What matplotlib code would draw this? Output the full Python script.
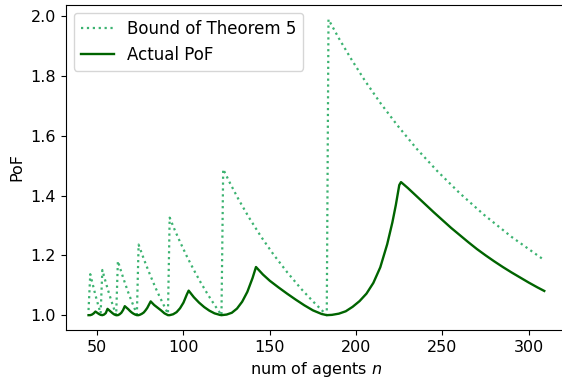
import numpy as np
import matplotlib
matplotlib.use("Agg")
import matplotlib.pyplot as plt

plt.rcParams["font.size"] = 11.5

# upper bound from Theorem 5, one list per step of the sawtooth
bound_n = [
    [45],
    [46, 47, 49, 51, 52],
    [53, 55, 57, 59, 61],
    [62, 64, 66, 68, 70, 73],
    [74, 76, 78, 80, 82, 84, 86, 88, 91],
    [92, 95, 98, 102, 106, 110, 114, 118, 122],
    [123, 127, 132, 138, 145, 152, 160, 168, 175, 183],
    [184, 190, 197, 205, 214, 224, 235, 247, 260, 274, 290, 309],
]
bound_v = [
    [1.017],
    [1.137, 1.113, 1.067, 1.025, 1.006],
    [1.151, 1.109, 1.070, 1.034, 1.000],
    [1.181, 1.144, 1.109, 1.076, 1.046, 1.003],
    [1.236, 1.204, 1.173, 1.144, 1.116, 1.089, 1.064, 1.040, 1.005],
    [1.326, 1.284, 1.245, 1.196, 1.151, 1.109, 1.070, 1.034, 1.000],
    [1.488, 1.441, 1.386, 1.326, 1.262, 1.204, 1.144, 1.089, 1.046, 1.000],
    [1.989, 1.926, 1.858, 1.785, 1.710, 1.634, 1.557, 1.482, 1.408, 1.336, 1.262, 1.184],
]

# measured price of fairness
actual_n = [
    45, 46, 47, 48, 49, 50, 51, 52, 53,
    54, 55, 56, 57, 58, 59, 60, 61,
    62, 63, 64, 65, 66, 67, 68, 69, 70, 71, 72, 73,
    74, 75, 76, 77, 78, 79, 80, 81, 83, 85, 87, 89, 91,
    92, 94, 96, 98, 100, 102, 103, 106, 109, 112, 115, 118, 121, 122,
    125, 128, 131, 134, 137, 140, 142, 146, 150, 155, 160, 165, 170, 175, 180, 183,
    186, 190, 194, 198, 202, 206, 210, 214, 218, 221, 223, 225, 226,
    230, 235, 240, 245, 250, 255, 260, 265, 270, 275, 280, 285, 290, 295, 300, 305, 309,
]
actual_v = [
    1.000, 1.000, 1.002, 1.006, 1.012, 1.008, 1.004, 1.001, 1.000,
    1.002, 1.007, 1.021, 1.016, 1.011, 1.006, 1.002, 1.000,
    1.000, 1.003, 1.008, 1.017, 1.030, 1.025, 1.020, 1.014, 1.009, 1.005, 1.002, 1.000,
    1.000, 1.002, 1.005, 1.009, 1.016, 1.024, 1.035, 1.046, 1.034, 1.025, 1.016, 1.006, 1.000,
    1.000, 1.003, 1.010, 1.023, 1.042, 1.070, 1.082, 1.060, 1.042, 1.027, 1.015, 1.006, 1.001, 1.000,
    1.002, 1.008, 1.022, 1.045, 1.078, 1.124, 1.161, 1.136, 1.115, 1.093, 1.072, 1.052, 1.033, 1.016, 1.004, 1.000,
    1.001, 1.005, 1.013, 1.028, 1.047, 1.072, 1.108, 1.160, 1.237, 1.310, 1.368, 1.435, 1.445,
    1.425, 1.398, 1.371, 1.344, 1.318, 1.292, 1.268, 1.244, 1.221, 1.200, 1.180, 1.161, 1.143, 1.126, 1.109, 1.093, 1.081,
]

fig = plt.figure(figsize=(5.62, 3.85), dpi=100)
ax = fig.add_axes([0.117, 0.143, 0.892, 0.845])

bn = np.concatenate([np.asarray(s, dtype=float) for s in bound_n])
bv = np.concatenate([np.asarray(s, dtype=float) for s in bound_v])
ax.plot(bn, bv, linestyle=":", color="mediumseagreen", linewidth=1.6,
        label="Bound of Theorem 5")
ax.plot(actual_n, actual_v, linestyle="-", color="darkgreen", linewidth=1.7,
        label="Actual PoF")

ax.set_xticks([50, 100, 150, 200, 250, 300])
ax.set_yticks([1.0, 1.2, 1.4, 1.6, 1.8, 2.0])
ax.set_xlabel("num of agents $n$")
ax.set_ylabel("PoF")
ax.legend(loc="upper left", fontsize=12)

plt.savefig("out.png", dpi=100)
